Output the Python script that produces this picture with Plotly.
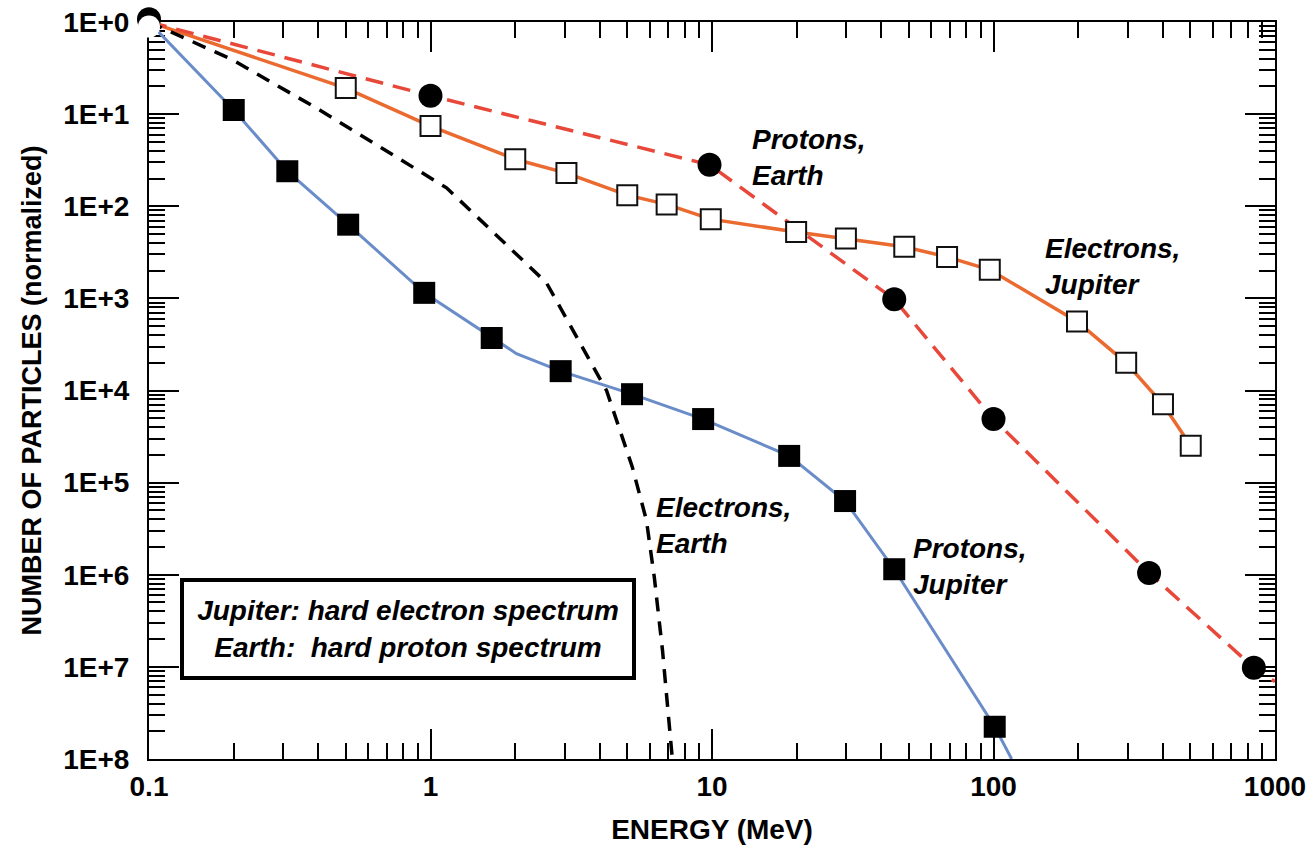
import math
import plotly.graph_objects as go

# ---------------- data (energy in MeV, N = decades below 1E+0) ----------------
# Protons, Jupiter (filled squares, blue line)
PJ_E = [0.2, 0.31, 0.51, 0.95, 1.65, 2.9, 5.2, 9.3, 18.8, 29.7, 44.4, 101]
PJ_N = [0.955, 1.62, 2.20, 2.94, 3.43, 3.79, 4.04, 4.31, 4.71, 5.20, 5.94, 7.65]
PJ_LINE_E = [0.1, 0.2, 0.31, 0.51, 0.95, 1.65, 2.02, 2.9, 5.2, 9.3, 18.8, 29.7, 44.4, 101, 116]
PJ_LINE_N = [0.0, 0.955, 1.62, 2.20, 2.94, 3.43, 3.60, 3.79, 4.04, 4.31, 4.71, 5.20, 5.94, 7.65, 8.0]

# Electrons, Jupiter (open squares, orange line)
EJ_E = [0.5, 1.0, 2.0, 3.04, 5.0, 6.9, 9.9, 19.9, 29.9, 48.2, 68.4, 97, 198, 296, 400, 502]
EJ_N = [0.717, 1.13, 1.49, 1.64, 1.88, 1.98, 2.14, 2.28, 2.35, 2.44, 2.55, 2.69, 3.25, 3.70, 4.15, 4.60]
EJ_LINE_E = [0.1] + EJ_E
EJ_LINE_N = [0.0] + EJ_N

# Protons, Earth (filled circles, red dashed line)
PE_E = [1.0, 9.8, 44.4, 100, 357, 841]
PE_N = [0.80, 1.55, 3.01, 4.31, 5.98, 7.01]
PE_LINE_E = [0.1, 1.0, 9.8, 44.4, 100, 357, 841, 1000]
PE_LINE_N = [0.0, 0.80, 1.55, 3.01, 4.31, 5.98, 7.01, 7.16]

# Electrons, Earth (black dashed line, no markers)
EE_E = [0.1, 0.198, 0.404, 1.14, 2.58, 3.47, 4.22, 5.21, 5.85, 6.24, 6.67, 7.23]
EE_N = [0.0, 0.41, 0.955, 1.80, 2.83, 3.53, 4.00, 4.83, 5.41, 6.03, 6.82, 8.0]

# common starting point at 0.1 MeV: black disc (Protons, Earth) partly hidden by a white disc
ORIGIN_E = [0.1, 0.1]
ORIGIN_N = [-0.03, 0.05]
ORIGIN_COLOR = ["black", "white"]
ORIGIN_R = [12, 11]

X_RANGE = [-1, 3]
Y_RANGE = [-8, 0]
X_TICKS = [0.1, 1, 10, 100, 1000]
X_TICKTEXT = ["0.1", "1", "10", "100", "1000"]
Y_DECADES = [0, 1, 2, 3, 4, 5, 6, 7, 8]
Y_TICKTEXT = ["1E+%d" % d for d in Y_DECADES]


def v(ns):
    return [10 ** (-n) for n in ns]


FONT = "Liberation Sans"
BLUE = "#6A8CC8"
ORANGE = "#EB6A30"
RED = "#E8483A"

fig = go.Figure()

fig.add_trace(go.Scatter(x=PJ_LINE_E, y=v(PJ_LINE_N), mode="lines",
                         line=dict(color=BLUE, width=3), hoverinfo="skip"))
fig.add_trace(go.Scatter(x=EJ_LINE_E, y=v(EJ_LINE_N), mode="lines",
                         line=dict(color=ORANGE, width=3.5), hoverinfo="skip"))
fig.add_trace(go.Scatter(x=PE_LINE_E, y=v(PE_LINE_N), mode="lines",
                         line=dict(color=RED, width=3.5, dash="18px,10px"), hoverinfo="skip"))
fig.add_trace(go.Scatter(x=EE_E, y=v(EE_N), mode="lines",
                         line=dict(color="black", width=3.5, dash="14px,10px"), hoverinfo="skip"))

fig.add_trace(go.Scatter(x=PJ_E, y=v(PJ_N), mode="markers", cliponaxis=False,
                         marker=dict(symbol="square", size=22, color="black")))
fig.add_trace(go.Scatter(x=EJ_E, y=v(EJ_N), mode="markers", cliponaxis=False,
                         marker=dict(symbol="square", size=20, color="white",
                                     line=dict(color="#111111", width=2))))
fig.add_trace(go.Scatter(x=PE_E, y=v(PE_N), mode="markers", cliponaxis=False,
                         marker=dict(symbol="circle", size=24, color="black")))

# origin discs sit partly outside the axis range, so place them as paper shapes
# computed from the data through the axis ranges
for e, n, col, r in zip(ORIGIN_E, ORIGIN_N, ORIGIN_COLOR, ORIGIN_R):
    px = (math.log10(e) - X_RANGE[0]) / (X_RANGE[1] - X_RANGE[0])
    py = (-n - Y_RANGE[0]) / (Y_RANGE[1] - Y_RANGE[0])
    fig.add_shape(type="circle", xref="paper", yref="paper",
                  xsizemode="pixel", ysizemode="pixel", xanchor=px, yanchor=py,
                  x0=-r, x1=r, y0=-r, y1=r, fillcolor=col, line=dict(width=0),
                  layer="above")

minor_x = [m * 10 ** k for k in range(-1, 3) for m in range(2, 10)]
minor_y = [m * 10 ** (-k) for k in range(1, 9) for m in range(2, 10)]

tickfont = dict(family=FONT, size=28, color="black", weight="bold")

fig.update_xaxes(type="log", range=X_RANGE, tickmode="array", tickvals=X_TICKS,
                 ticktext=X_TICKTEXT, ticks="inside", ticklen=30, tickwidth=2,
                 tickcolor="black", showline=True, linewidth=2, linecolor="black",
                 mirror="allticks", showgrid=False, zeroline=False,
                 ticklabelstandoff=1, ticklabeloverflow="allow", layer="below traces",
                 minor=dict(tickmode="array", tickvals=minor_x, ticks="inside",
                            ticklen=16, tickwidth=2, tickcolor="black", showgrid=False),
                 tickfont=tickfont,
                 title=dict(text="ENERGY (MeV)", standoff=20,
                            font=dict(family=FONT, size=28, color="black", weight="bold")))

fig.update_yaxes(type="log", range=Y_RANGE, tickmode="array",
                 tickvals=[10 ** (-d) for d in Y_DECADES], ticktext=Y_TICKTEXT,
                 ticks="inside", ticklen=30, tickwidth=2, tickcolor="black",
                 showline=True, linewidth=2, linecolor="black", mirror="allticks",
                 showgrid=False, zeroline=False, ticklabelstandoff=12,
                 ticklabeloverflow="allow", layer="below traces",
                 minor=dict(tickmode="array", tickvals=minor_y, ticks="inside",
                            ticklen=16, tickwidth=2, tickcolor="black", showgrid=False),
                 tickfont=tickfont,
                 title=dict(text="NUMBER OF PARTICLES (normalized)", standoff=14,
                            font=dict(family=FONT, size=27, color="black", weight="bold")))

labfont = dict(family=FONT, size=28, color="black", weight="bold", style="italic")
LABELS = [
    ("Protons,<br>Earth", 13.6, 1.466),
    ("Electrons,<br>Jupiter", 150, 2.65),
    ("Electrons,<br>Earth", 6.24, 5.47),
    ("Protons,<br>Jupiter", 51, 5.91),
]
for text, xe, n in LABELS:
    fig.add_annotation(x=math.log10(xe), y=-n, xref="x", yref="y", text=text,
                       showarrow=False, xanchor="left", yanchor="middle",
                       align="left", font=labfont)

fig.add_annotation(xref="paper", yref="paper", x=0.0275, y=0.2456,
                   xanchor="left", yanchor="top", showarrow=False,
                   text="Jupiter: hard electron spectrum<br>Earth:  hard proton spectrum",
                   font=labfont, align="center", bgcolor="white",
                   bordercolor="black", borderwidth=4, borderpad=4,
                   width=440, height=86)

fig.update_layout(width=1311, height=845, showlegend=False,
                  plot_bgcolor="white", paper_bgcolor="white",
                  margin=dict(l=149, r=36, t=22, b=86, autoexpand=False))

# remove the default 8px page margin so the figure fills the window exactly
fig.write_html("out.html", config={"displayModeBar": False},
               post_script="document.body.style.margin='0px';document.body.style.overflow='hidden';")
